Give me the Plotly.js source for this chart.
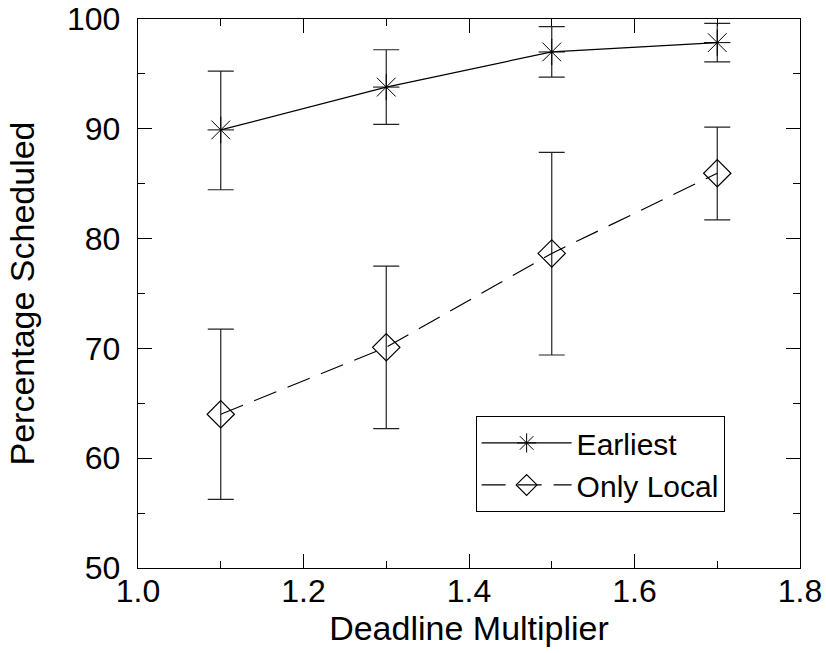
<!DOCTYPE html>
<html>
<head>
<meta charset="utf-8">
<script src="https://cdn.plot.ly/plotly-3.0.1.min.js"></script>
<style>html,body{margin:0;padding:0;background:#fff;}#chart{width:826px;height:653px;}</style>
</head>
<body>
<div id="chart"></div>
<script>
const multipliers = [1.1, 1.3, 1.5, 1.7];
const earliestMean = [89.9, 93.8, 97.0, 97.85];
const earliestHigh = [95.25, 97.2, 99.3, 99.6];
const earliestLow = [84.45, 90.4, 94.7, 96.1];
const localMean = [64.0, 70.1, 78.65, 85.95];
const localHigh = [71.75, 77.5, 87.85, 90.15];
const localLow = [56.25, 62.7, 69.4, 81.7];
const seriesNames = ['Earliest', 'Only Local'];

const up = (h, m) => h.map((v, i) => v - m[i]);
const down = (l, m) => l.map((v, i) => m[i] - v);
const FONT = 'Liberation Sans, Arial, sans-serif';

const traces = [
  {
    x: multipliers, y: earliestMean, name: seriesNames[0], type: 'scatter', mode: 'lines+markers',
    line: {color: '#000', width: 1.2},
    marker: {symbol: 'asterisk-open', size: 22, color: '#000', line: {color: '#000', width: 1}},
    error_y: {type: 'data', symmetric: false, array: up(earliestHigh, earliestMean), arrayminus: down(earliestLow, earliestMean),
              color: '#222', thickness: 1.2, width: 13}
  },
  {
    x: multipliers, y: localMean, name: seriesNames[1], type: 'scatter', mode: 'lines+markers',
    line: {color: '#000', width: 1.2, dash: '24px,12px'},
    marker: {symbol: 'diamond-open', size: 21, color: '#000', line: {color: '#000', width: 1.2}},
    error_y: {type: 'data', symmetric: false, array: up(localHigh, localMean), arrayminus: down(localLow, localMean),
              color: '#222', thickness: 1.2, width: 13}
  }
];

const layout = {
  width: 826, height: 653,
  margin: {l: 138, r: 26, t: 19, b: 85},
  paper_bgcolor: '#fff', plot_bgcolor: '#fff',
  font: {family: FONT, size: 32, color: '#000'},
  showlegend: true,
  legend: {x: 0.51, y: 0.277, xanchor: 'left', yanchor: 'top', bordercolor: '#000', borderwidth: 1,
           bgcolor: '#fff', font: {family: FONT, size: 30, color: '#000'}, tracegroupgap: 0, itemwidth: 90},
  xaxis: {
    range: [1.0, 1.8], tickvals: [1.0, 1.2, 1.4, 1.6, 1.8], ticktext: ['1.0', '1.2', '1.4', '1.6', '1.8'],
    ticks: 'inside', ticklen: 14, tickcolor: '#000', tickwidth: 1, ticklabeloverflow: 'allow', ticklabelstandoff: -6,
    minor: {dtick: 0.1, tick0: 1.0, ticks: 'inside', ticklen: 7, tickcolor: '#000', showgrid: false},
    showline: true, linecolor: '#000', linewidth: 1.2, mirror: 'ticks', showgrid: false, zeroline: false,
    tickfont: {family: FONT, size: 32, color: '#000'},
    title: {text: 'Deadline Multiplier', font: {family: FONT, size: 34, color: '#000'}, standoff: 4}
  },
  yaxis: {
    range: [50, 100], tickvals: [50, 60, 70, 80, 90, 100],
    ticks: 'inside', ticklen: 14, tickcolor: '#000', tickwidth: 1, ticklabelstandoff: 10, ticklabeloverflow: 'allow',
    minor: {dtick: 5, tick0: 50, ticks: 'inside', ticklen: 7, tickcolor: '#000', showgrid: false},
    showline: true, linecolor: '#000', linewidth: 1.2, mirror: 'ticks', showgrid: false, zeroline: false,
    tickfont: {family: FONT, size: 32, color: '#000'},
    title: {text: 'Percentage Scheduled', font: {family: FONT, size: 34, color: '#000'}, standoff: 22}
  }
};

Plotly.newPlot('chart', traces, layout, {displayModeBar: false, staticPlot: true});
</script>
</body>
</html>
